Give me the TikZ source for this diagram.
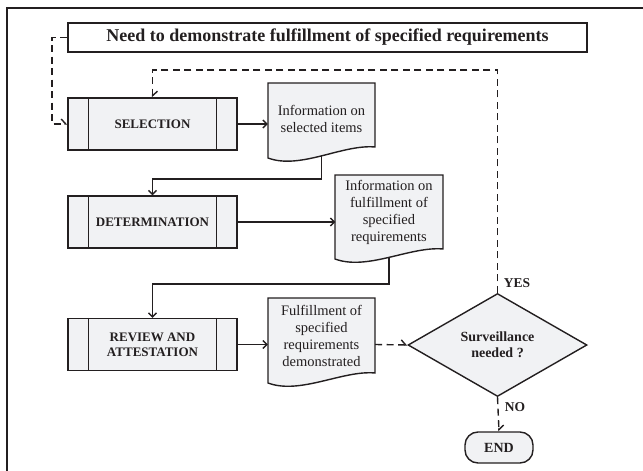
\documentclass[tikz,border=0pt]{standalone}
\usepackage{fontspec}
\setmainfont{Liberation Serif}
\usetikzlibrary{arrows.meta,backgrounds,shapes.geometric}

\definecolor{ink}{HTML}{231F20}
\definecolor{paper}{HTML}{F1F2F4}

% document symbol: flat top, wavy bottom (left corner lower than right)
% #1 left x, #2 right x, #3 top y, #4 left corner y, #5 right corner y
\newcommand{\docpath}[5]{%
  \path[docshape] (#1,#3) -- (#2,#3) -- (#2,#5)
    .. controls ({#2-0.3*(#2-#1)},#5-3) and ({#1+0.3*(#2-#1)},#4+12) .. (#1,#4) -- cycle;}

\tikzset{
  flow/.style={draw=ink, line width=1.4pt},
  procbox/.style={draw=ink, fill=paper, line width=1.4pt, minimum width=169pt,
    minimum height=52pt, inner sep=0pt, align=center, text=ink,
    font=\fontsize{13}{15}\selectfont\bfseries},
  doctext/.style={minimum width=107pt, inner sep=0pt, align=center, text=ink,
    font=\fontsize{14.5}{17}\selectfont},
  docshape/.style={draw=ink, fill=paper, line width=1.4pt},
  decision/.style={diamond, aspect=1.7, draw=ink, fill=paper, line width=1.4pt,
    minimum width=179pt, minimum height=103pt, inner sep=0pt, align=center,
    text=ink, font=\fontsize{14}{16}\selectfont\bfseries},
  terminal/.style={draw=ink, fill=paper, line width=1.4pt, rounded corners=13pt,
    minimum width=68pt, minimum height=31pt, inner sep=0pt, text=ink,
    font=\fontsize{14}{16}\selectfont\bfseries},
  headbox/.style={draw=ink, line width=1.4pt, minimum width=519pt,
    minimum height=29pt, inner sep=0pt, text=ink,
    font=\fontsize{18}{20}\selectfont\bfseries},
  answer/.style={inner sep=0pt, text=ink, font=\fontsize{13.5}{16}\selectfont\bfseries},
  solidarrow/.style={flow, -{Straight Barb[length=4pt,width=8pt]}},
  dasharrow/.style={flow, dash pattern=on 7pt off 4.5pt,
    -{Straight Barb[left,length=4.5pt,width=10pt]}},
}

\begin{document}
\begin{tikzpicture}[x=1pt, y=-1pt]
  \path[use as bounding box] (0,0) rectangle (643,471);

  % outer frame (open to the right and bottom)
  \draw[draw=ink, line width=2.4pt] (7,471) -- (7,8) -- (643,8);

  % heading
  \node[headbox] (need) at (327.5,37.5) {Need to demonstrate fulfillment of specified requirements};

  % process steps
  \node[procbox] (sel) at (152.5,124) {SELECTION};
  \node[procbox] (det) at (152.5,222) {DETERMINATION};
  \node[procbox] (rev) at (152.5,344.5) {REVIEW AND\\ATTESTATION};
  \foreach \n in {sel,det,rev}{
    \draw[flow] ([xshift=21pt]\n.north west) -- ([xshift=21pt]\n.south west);
    \draw[flow] ([xshift=-21pt]\n.north east) -- ([xshift=-21pt]\n.south east);
  }

  % documents
  \begin{scope}[on background layer]
    \docpath{268}{375}{83}{158}{147}
    \docpath{335}{443}{175}{259}{249}
    \docpath{268}{375}{298}{383}{373}
  \end{scope}
  \node[doctext] (d1) at (321.5,118.5) {Information on\\selected items};
  \node[doctext] (d2) at (389,212.5) {Information on\\fulfillment of\\specified\\requirements};
  \node[doctext] (d3) at (321.5,336) {Fulfillment of\\specified\\requirements\\demonstrated};
  \coordinate (d1b) at (321.5,155);
  \coordinate (d2b) at (389,256.5);

  % decision and end
  \node[decision] (dec) at (497.5,345) {Surveillance\\needed ?};
  \node[terminal] (endn) at (499,447.5) {END};
  \node[answer] (yes) at (517,283) {YES};
  \node[answer] (no) at (515,407) {NO};

  % routing levels
  \coordinate (rail) at (52,0);
  \coordinate (loop) at (0,70);
  \coordinate (bend1) at (0,179);
  \coordinate (bend2) at (0,284);

  % solid flow
  \draw[solidarrow] (sel.east) -- (sel.east -| d1.west);
  \draw[solidarrow] (d1b) -- (d1b |- bend1) -| (det.north);
  \draw[solidarrow] (det.east) -- (det.east -| d2.west);
  \draw[solidarrow] (d2b) -- (d2b |- bend2) -| (rev.north);
  \draw[solidarrow] (rev.east) -- (rev.east -| d3.west);

  % dashed flow
  \draw[dasharrow] (need.west) -- (need.west -| rail) |- (sel.west);
  \draw[dasharrow] (dec.north) -- (dec.north |- loop) -| (sel.north);
  \draw[dasharrow] (rev.east -| d3.east) -- (dec.west);
  \draw[dasharrow] (dec.south) -- (endn.north);
\end{tikzpicture}
\end{document}
